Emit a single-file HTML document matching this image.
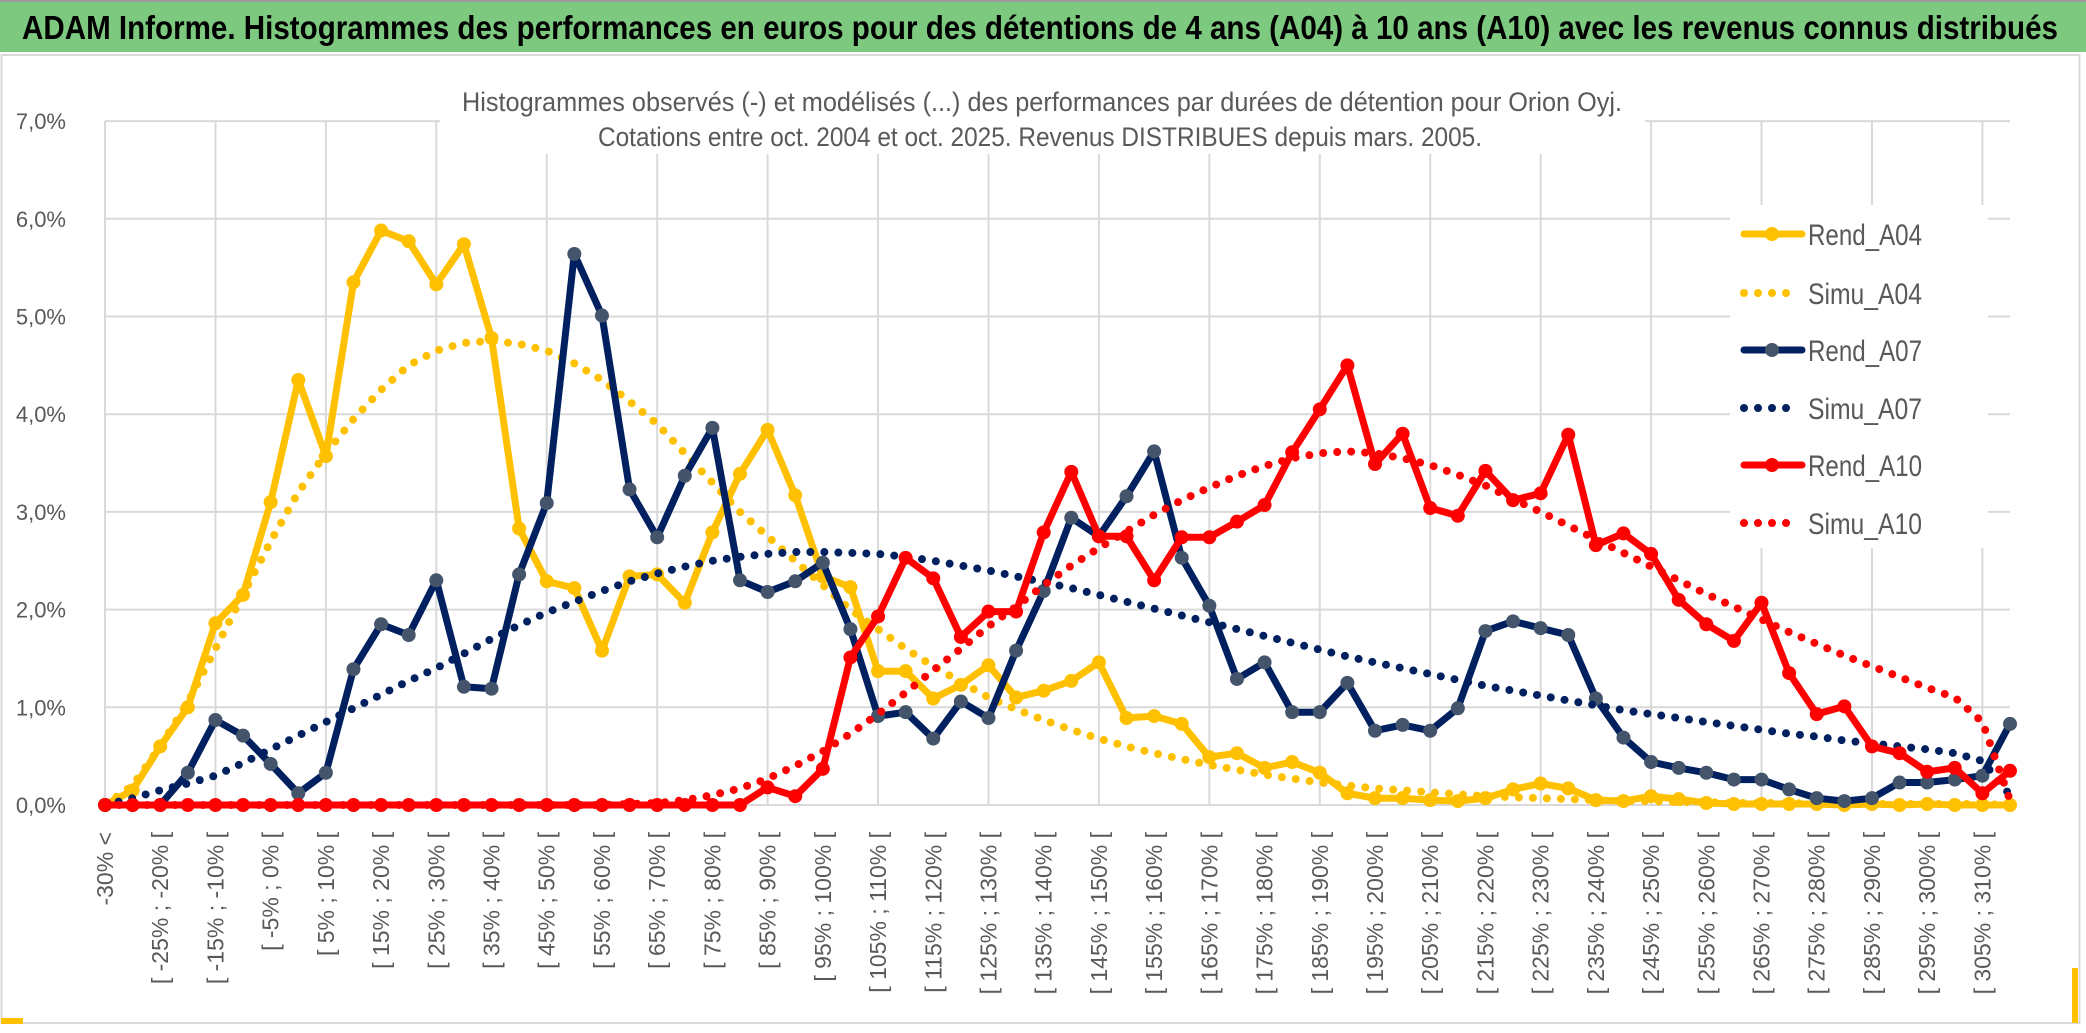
<!DOCTYPE html>
<html><head><meta charset="utf-8"><style>
html,body{margin:0;padding:0;background:#fff;}
svg{display:block;font-family:"Liberation Sans",sans-serif;}
</style></head><body>
<svg id="chart" width="2086" height="1033" viewBox="0 0 2086 1033" xmlns="http://www.w3.org/2000/svg">
<rect x="0" y="0" width="2086" height="1033" fill="#fff"/>
<rect x="1.5" y="55" width="2078" height="968" fill="none" stroke="#d9d9d9" stroke-width="2"/>
<rect x="0" y="2" width="2086" height="50" fill="#7dc97f"/>
<line x1="0" y1="1" x2="2086" y2="1" stroke="#9a9a9a" stroke-width="2"/>
<text x="22" y="39" font-size="33" font-weight="bold" fill="#000" textLength="2036" lengthAdjust="spacingAndGlyphs">ADAM Informe. Histogrammes des performances en euros pour des détentions de 4 ans (A04) à 10 ans (A10) avec les revenus connus distribués</text>
<g id="grid"></g>
<g id="ylabels"></g>
<g id="xlabels"></g>
<g id="series"></g>
<rect x="440" y="84" width="1205" height="70" fill="#fff"/>
<text x="1042" y="111" text-anchor="middle" font-size="27" fill="#595959" textLength="1160" lengthAdjust="spacingAndGlyphs">Histogrammes observés (-) et modélisés (...) des performances par durées de détention pour Orion Oyj.</text>
<text x="1040" y="146" text-anchor="middle" font-size="27" fill="#595959" textLength="884" lengthAdjust="spacingAndGlyphs">Cotations entre oct. 2004 et oct. 2025. Revenus DISTRIBUES depuis mars. 2005.</text>
<g id="legend"></g>
<rect x="1" y="1018" width="22" height="6" fill="#ffc000"/>
<rect x="2072" y="968" width="6" height="55" fill="#ffc000"/>
</svg>
<script>
const categories = ["-30% <"];
for (let a = -30; a < 315; a += 5) categories.push("[ " + a + "% ; " + (a + 5) + "% [");
const rendA04 = [0,0.15,0.6,1.0,1.86,2.15,3.1,4.35,3.57,5.35,5.88,5.77,5.33,5.74,4.78,2.83,2.29,2.22,1.58,2.34,2.36,2.07,2.79,3.39,3.84,3.17,2.34,2.23,1.37,1.37,1.09,1.23,1.43,1.10,1.17,1.27,1.46,0.89,0.91,0.83,0.49,0.53,0.38,0.44,0.33,0.12,0.07,0.07,0.05,0.04,0.07,0.16,0.22,0.17,0.05,0.04,0.09,0.06,0.02,0.01,0.01,0.01,0.01,0,0.01,0,0.01,0,0,0];
const simuA04 = [0,0.2,0.6,1.05,1.6,2.15,2.7,3.2,3.6,3.95,4.25,4.5,4.65,4.73,4.75,4.72,4.65,4.52,4.35,4.13,3.9,3.6,3.3,3.0,2.75,2.5,2.25,2.0,1.8,1.6,1.42,1.26,1.1,0.98,0.87,0.77,0.68,0.6,0.53,0.47,0.41,0.36,0.31,0.27,0.23,0.2,0.17,0.15,0.13,0.11,0.09,0.08,0.07,0.06,0.05,0.04,0.04,0.03,0.03,0.02,0.02,0.02,0.01,0.01,0.01,0.01,0.01,0.01,0.01,0];
const rendA07 = [0,0,0,0.33,0.87,0.71,0.42,0.12,0.33,1.39,1.85,1.74,2.30,1.21,1.19,2.36,3.09,5.64,5.01,3.23,2.74,3.37,3.86,2.30,2.18,2.29,2.48,1.8,0.91,0.95,0.68,1.06,0.89,1.58,2.19,2.94,2.75,3.16,3.62,2.53,2.04,1.29,1.46,0.95,0.95,1.25,0.76,0.82,0.76,0.99,1.78,1.88,1.81,1.74,1.09,0.69,0.44,0.38,0.33,0.26,0.26,0.16,0.07,0.04,0.07,0.23,0.23,0.26,0.30,0.83];
const simuA07 = [0,0.07,0.15,0.22,0.3,0.43,0.57,0.71,0.85,0.99,1.13,1.27,1.4,1.55,1.7,1.84,1.97,2.08,2.19,2.29,2.37,2.44,2.5,2.54,2.57,2.59,2.59,2.58,2.57,2.54,2.5,2.45,2.4,2.34,2.28,2.22,2.15,2.08,2.01,1.94,1.87,1.8,1.73,1.66,1.59,1.52,1.46,1.4,1.34,1.28,1.22,1.17,1.12,1.07,1.02,0.97,0.93,0.89,0.85,0.81,0.77,0.73,0.7,0.66,0.63,0.6,0.57,0.53,0.45,0.1];
const rendA10 = [0,0,0,0,0,0,0,0,0,0,0,0,0,0,0,0,0,0,0,0,0,0,0,0,0.18,0.09,0.37,1.51,1.93,2.53,2.32,1.72,1.98,1.98,2.79,3.41,2.75,2.75,2.30,2.74,2.74,2.90,3.07,3.61,4.05,4.50,3.49,3.80,3.04,2.96,3.42,3.12,3.19,3.79,2.66,2.78,2.57,2.10,1.85,1.68,2.07,1.35,0.93,1.01,0.60,0.53,0.34,0.38,0.12,0.35];
const simuA10 = [0,0,0,0,0,0,0,0,0,0,0,0,0,0,0,0,0,0,0,0.01,0.02,0.05,0.1,0.17,0.27,0.4,0.55,0.73,0.93,1.15,1.38,1.6,1.83,2.03,2.25,2.45,2.63,2.8,2.97,3.12,3.25,3.37,3.47,3.55,3.6,3.62,3.6,3.55,3.48,3.38,3.27,3.13,3.0,2.86,2.72,2.58,2.44,2.3,2.16,2.03,1.9,1.77,1.65,1.53,1.42,1.31,1.2,1.1,0.85,0.05];
const yTicks = ["0,0%","1,0%","2,0%","3,0%","4,0%","5,0%","6,0%","7,0%"];
const seriesNames = ["Rend_A04","Simu_A04","Rend_A07","Simu_A07","Rend_A10","Simu_A10"];

const NS = "http://www.w3.org/2000/svg";
const X0 = 105, X1 = 2010, Y0 = 805, YPER = 97.7;
function xs(i){ return X0 + i * (X1 - X0) / (categories.length - 1); }
function ys(v){ return Y0 - v * YPER; }
function mk(tag, attrs, parent){ const e = document.createElementNS(NS, tag); for (const k in attrs) e.setAttribute(k, attrs[k]); parent.appendChild(e); return e; }

const grid = document.getElementById("grid");
yTicks.forEach((t, k) => {
  const gl = mk("line", {x1: X0, x2: X1, y1: ys(k), y2: ys(k), stroke: "#d9d9d9", "stroke-width": 2}, grid);
  
  
  const tl = mk("text", {x: 66, y: ys(k) + 8, "text-anchor": "end", "font-size": 22, fill: "#595959"}, document.getElementById("ylabels"));
  tl.textContent = t;
  
  
});
for (let i = 0; i < categories.length; i += 4) {
  const vl = mk("line", {x1: xs(i), x2: xs(i), y1: ys(7), y2: Y0, stroke: "#d9d9d9", "stroke-width": 2}, grid);
  
  
}
for (let i = 0; i < categories.length; i += 2) {
  const x = xs(i) + 8, y = 832;
  const lb = mk("text", {x: x, y: y, transform: "rotate(-90 " + x + " " + y + ")", "text-anchor": "end", "font-size": 23, fill: "#595959"}, document.getElementById("xlabels"));
  lb.textContent = categories[i];
  
  
}

const sg = document.getElementById("series");
function drawLine(vals, color, name){
  const pts = vals.map((v, i) => xs(i).toFixed(1) + "," + ys(v).toFixed(1)).join(" ");
  const p = mk("polyline", {points: pts, fill: "none", stroke: color, "stroke-width": 7, "stroke-linejoin": "round", "stroke-linecap": "round"}, sg);
  
  
}
function drawMarkers(vals, color, name){
  vals.forEach((v, i) => {
    const c = mk("circle", {cx: xs(i), cy: ys(v), r: 7, fill: color}, sg);
    
    
  });
}
function drawDots(vals, color, name){
  const pts = vals.map((v, i) => xs(i).toFixed(1) + "," + ys(v).toFixed(1)).join(" ");
  const p = mk("polyline", {points: pts, fill: "none", stroke: color, "stroke-width": 8, "stroke-dasharray": "0 14", "stroke-linecap": "round", "stroke-linejoin": "round"}, sg);
  
  
}
drawLine(rendA04, "#ffc000", "rend-a04-line");
drawMarkers(rendA04, "#ffc000", "rend-a04-point");
drawDots(simuA04, "#ffc000", "simu-a04-line");
drawLine(rendA07, "#002060", "rend-a07-line");
drawMarkers(rendA07, "#44546a", "rend-a07-point");
drawDots(simuA07, "#002060", "simu-a07-line");
drawLine(rendA10, "#ff0000", "rend-a10-line");
drawMarkers(rendA10, "#ff0000", "rend-a10-point");
drawDots(simuA10, "#ff0000", "simu-a10-line");

const lg = document.getElementById("legend");
mk("rect", {x: 1730, y: 205, width: 258, height: 343, fill: "#fff"}, lg);
const lcol = ["#ffc000","#ffc000","#002060","#002060","#ff0000","#ff0000"];
const lmark = ["#ffc000",null,"#44546a",null,"#ff0000",null];
const lys = [234, 293, 350, 408, 465, 523];
seriesNames.forEach((n, k) => {
  const y = lys[k];
  if (k % 2 === 0) {
    const l = mk("line", {x1: 1744, x2: 1802, y1: y, y2: y, stroke: lcol[k], "stroke-width": 7, "stroke-linecap": "round"}, lg);
    
    
    mk("circle", {cx: 1772, cy: y, r: 7, fill: lmark[k]}, lg);
  } else {
    const l = mk("line", {x1: 1744, x2: 1800, y1: y, y2: y, stroke: lcol[k], "stroke-width": 8, "stroke-dasharray": "0 14", "stroke-linecap": "round"}, lg);
    
    
  }
  const t = mk("text", {x: 1808, y: y + 11, "font-size": 30, fill: "#595959", textLength: 114, lengthAdjust: "spacingAndGlyphs"}, lg);
  t.textContent = n;
  
  
});
</script>
</body></html>
